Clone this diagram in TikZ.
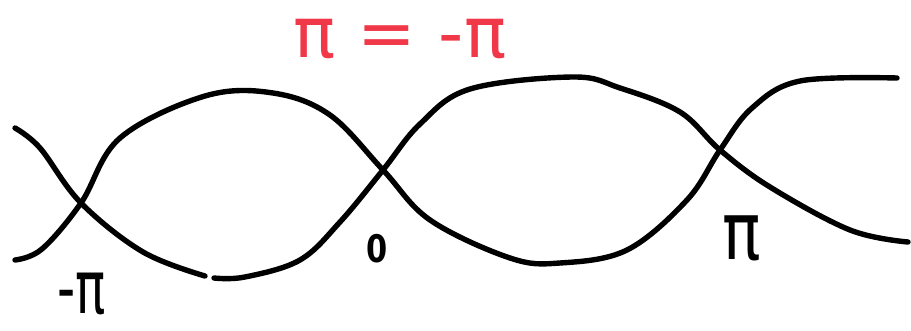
\documentclass[tikz,border=0pt]{standalone}
\usepackage{fontspec}
\setmainfont{DejaVu Sans}
\definecolor{sketchred}{RGB}{240,56,72}
\tikzset{
  stroke/.style={line width=5.4pt, line cap=round, line join=round, black},
  lbl/.style={inner sep=0pt, anchor=base, text depth=0pt},
}
\begin{document}
\begin{tikzpicture}[x=1pt,y=-1pt]
\useasboundingbox (0,0) rectangle (911,331);
% curve A (starts upper left)
\draw[stroke] plot[smooth, tension=0.6] coordinates {(15,128) (40,148) (81,203) (143,252) (205,276)};
\draw[stroke] plot[smooth, tension=0.6] coordinates {(214,278) (245,277) (300,260) (340,222) (383,170) (420,124) (470,89) (573,77) (620,88) (680,112) (720,150) (770,187) (850,230) (908,242)};
% curve B (starts lower left)
\draw[stroke] plot[smooth, tension=0.6] coordinates {(15,260) (42,249) (81,203) (120,138) (205,96) (273,93) (330,115) (383,170) (430,220) (510,258) (560,263) (627,250) (687,200) (720,150) (752,108) (800,81) (897,78)};
% labels
\node[lbl, font=\fontsize{74}{74}\selectfont] (mpi) at (82,314) {\scalebox{0.68}[1]{-π}};
\node[lbl, font=\fontsize{38}{38}\bfseries] (zero) at (377,263) {\scalebox{0.8}[1]{0}};
\node[lbl, font=\fontsize{80}{80}\selectfont] (pi) at (742,260) {\scalebox{0.8}[1]{π}};
\node[lbl, text=sketchred, font=\fontsize{70}{70}\selectfont] (eq) at (400,58) {π = -π};
\end{tikzpicture}
\end{document}
